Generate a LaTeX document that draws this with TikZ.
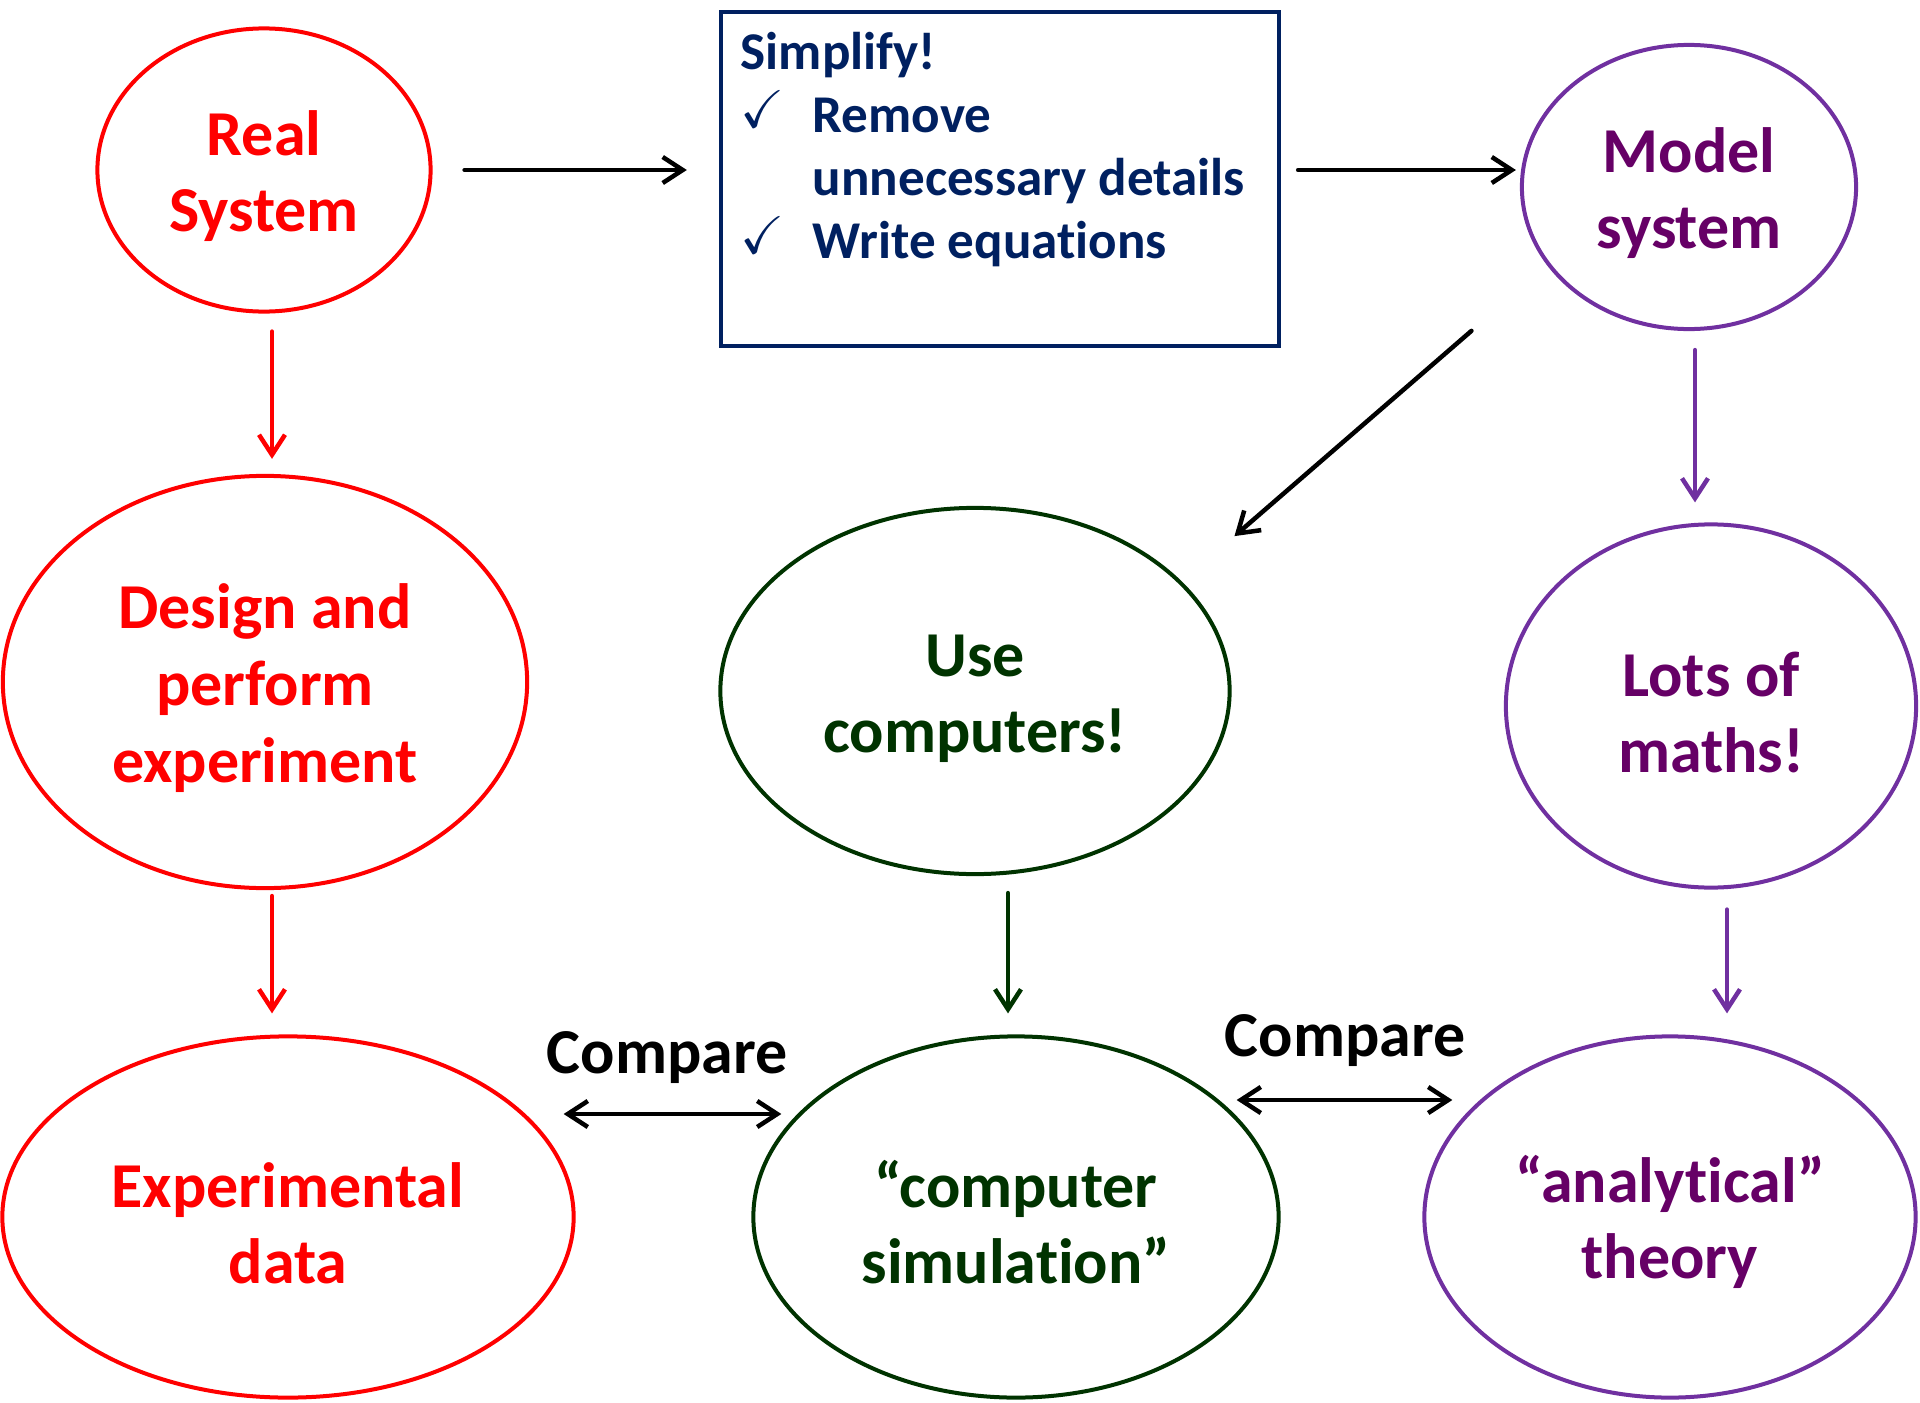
\documentclass[tikz,border=0pt]{standalone}
\usepackage{amssymb}
\usepackage{fontspec}
\setmainfont{Carlito}[Ligatures=NoCommon]
\usetikzlibrary{shapes.geometric,arrows.meta}
\definecolor{realred}{HTML}{FF0000}
\definecolor{simgreen}{HTML}{003300}
\definecolor{mathpurple}{HTML}{660066}
\definecolor{linepurple}{HTML}{7030A0}
\definecolor{boxnavy}{HTML}{002060}
\newcommand{\bubbletop}{\rule{0pt}{16.3pt}}
\tikzset{
  bubble/.style={ellipse, draw, line width=0.04cm, inner sep=0pt, align=center,
    font=\bfseries\fontsize{18.2}{21.8}\selectfont},
  redbubble/.style={bubble, draw=realred, text=realred},
  greenbubble/.style={bubble, draw=simgreen, text=simgreen},
  purplebubble/.style={bubble, draw=linepurple, text=mathpurple},
  arrowline/.style={-{Straight Barb[length=0.2cm,width=0.26cm]}, line width=0.045cm,
    line cap=round, line join=round},
  bothline/.style={arrowline, {Straight Barb[length=0.2cm,width=0.26cm]}-{Straight Barb[length=0.2cm,width=0.26cm]}},
  comparelabel/.style={font=\bfseries\fontsize{18.2}{21.8}\selectfont, anchor=base}
}
\begin{document}
\begin{tikzpicture}[x=0.01cm, y=-0.01cm]
  \useasboundingbox (0,0) rectangle (1920,1403);
  % place nodes
  \node [redbubble, minimum width=3.33cm, minimum height=2.83cm] (real) at (264,170) {\bubbletop Real\\System};
  \node [draw=boxnavy, line width=0.04cm, minimum width=5.58cm, minimum height=3.34cm] (simplify) at (1000,179) {};
  \node [anchor=base west, text=boxnavy, font=\bfseries\fontsize{15.1}{17.9}\selectfont, inner sep=0pt] (simplifytext) at (740,70)
    {\setlength{\tabcolsep}{0pt}\begin{tabular}[t]{ll}
      \multicolumn{2}{l}{Simplify!}\\
      \makebox[0.72cm][l]{\raisebox{0.05cm}{\checkmark}} & Remove\\
      & unnecessary details\\
      \makebox[0.72cm][l]{\raisebox{0.05cm}{\checkmark}} & Write equations
    \end{tabular}};
  \node [purplebubble, minimum width=3.34cm, minimum height=2.84cm] (model) at (1689,187) {\bubbletop Model\\system};
  \node [redbubble, minimum width=5.24cm, minimum height=4.12cm] (design) at (265,682) {\bubbletop Design and\\perform\\experiment};
  \node [greenbubble, minimum width=5.09cm, minimum height=3.66cm] (computers) at (975,691) {\bubbletop Use\\computers!};
  \node [purplebubble, minimum width=4.10cm, minimum height=3.63cm] (maths) at (1711,706) {\bubbletop Lots of\\maths!};
  \node [redbubble, minimum width=5.71cm, minimum height=3.61cm] (experimental) at (288,1217) {\bubbletop Experimental\\data};
  \node [greenbubble, minimum width=5.25cm, minimum height=3.61cm] (simulation) at (1016,1217) {\bubbletop “computer\\simulation”};
  \node [purplebubble, minimum width=4.91cm, minimum height=3.61cm] (analytical) at (1670,1217) {\bubbletop “analytical”\\theory};
  \node [comparelabel] (compareleft) at (667,1073) {Compare};
  \node [comparelabel] (compareright) at (1345,1056) {Compare};
  % draw edges
  \draw [arrowline] ([shift={(32,0)}]real.east) -- ([shift={(-32,-9)}]simplify.west);
  \draw [arrowline] ([shift={(17,-9)}]simplify.east) -- ([shift={(-4,-17)}]model.west);
  \draw [arrowline] ([shift={(-98,42)}]model.south west) -- ([shift={(78,-24)}]computers.north east);
  \draw [arrowline, realred] ([shift={(8,18)}]real.south) -- ([shift={(7,-15)}]design.north);
  \draw [arrowline, realred] ([shift={(7,6)}]design.south) -- ([shift={(-16,-21)}]experimental.north);
  \draw [arrowline, simgreen] ([shift={(33,17)}]computers.south) -- ([shift={(-8,-21)}]simulation.north);
  \draw [arrowline, linepurple] ([shift={(6,19)}]model.south) -- ([shift={(-16,-20)}]maths.north);
  \draw [arrowline, linepurple] ([shift={(16,20)}]maths.south) -- ([shift={(57,-21)}]analytical.north);
  % compare links
  \draw [bothline] ([shift={(-12,-103)}]experimental.east) -- ([shift={(30,-103)}]simulation.west);
  \draw [bothline] ([shift={(-44,-117)}]simulation.east) -- ([shift={(30,-117)}]analytical.west);
\end{tikzpicture}
\end{document}
